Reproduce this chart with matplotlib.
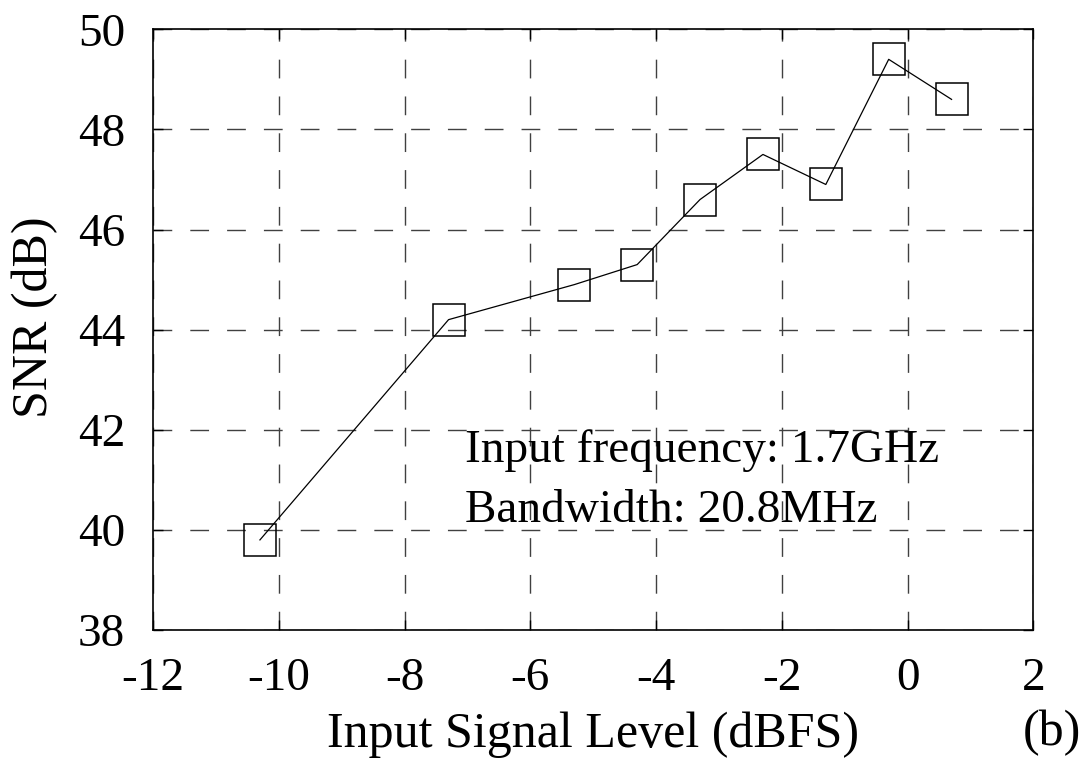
import matplotlib

matplotlib.use("Agg")
import matplotlib.pyplot as plt

# Measured SNR vs input signal level
input_level = [-10.3, -7.3, -5.3, -4.3, -3.3, -2.3, -1.3, -0.3, 0.7]
snr_db = [39.8, 44.2, 44.9, 45.3, 46.6, 47.5, 46.9, 49.4, 48.6]
x_ticks = [-12, -10, -8, -6, -4, -2, 0, 2]
y_ticks = [38, 40, 42, 44, 46, 48, 50]

plt.rcParams["font.family"] = ["Liberation Serif", "DejaVu Serif"]
plt.rcParams["axes.unicode_minus"] = False

fig = plt.figure(figsize=(10.87, 7.67), dpi=100)
ax = fig.add_axes([0.1408, 0.1786, 0.8098, 0.7832])

ax.plot(input_level, snr_db, color="black", linewidth=0.9,
        marker="s", markersize=23, markerfacecolor="none",
        markeredgecolor="black", markeredgewidth=1.1)

ax.set_xlim(-12, 2)
ax.set_ylim(38, 50)
ax.set_xticks(x_ticks)
ax.set_yticks(y_ticks)
ax.grid(True, color="#404040", linewidth=1.0, dashes=(13.5, 13))
ax.set_axisbelow(True)

ax.tick_params(direction="in", length=7, width=1, labelsize=34, pad=20,
               top=True, right=True)
for spine in ax.spines.values():
    spine.set_linewidth(1.2)
    spine.set_color("black")

ax.set_xlabel("Input Signal Level (dBFS)", fontsize=36, labelpad=8)
ax.set_ylabel("SNR (dB)", fontsize=36)
ax.yaxis.set_label_coords(-0.108, 0.52)
fig.text(0.995, 0.028, "(b)", fontsize=36, ha="right", va="baseline")

ax.text(-7.04, 41.36, "Input frequency: 1.7GHz", fontsize=34,
        ha="left", va="baseline")
ax.text(-7.04, 40.16, "Bandwidth: 20.8MHz", fontsize=34,
        ha="left", va="baseline")

fig.savefig("out.png", dpi=100, facecolor="white")
plt.close(fig)
